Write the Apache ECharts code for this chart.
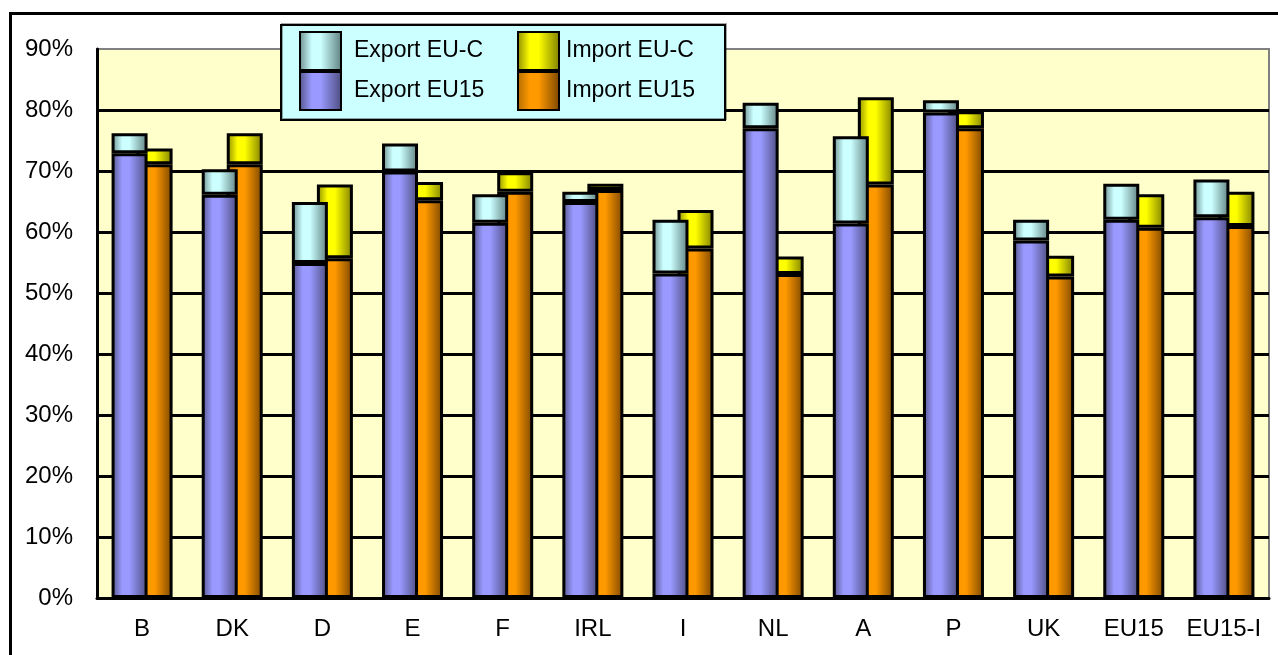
<!DOCTYPE html>
<html>
<head>
<meta charset="utf-8">
<title>Export and import shares</title>
<script src="https://cdn.jsdelivr.net/npm/echarts@6/dist/echarts.min.js"></script>
<style>
  html, body { margin: 0; padding: 0; background: #ffffff; }
  #chart { width: 1278px; height: 655px; }
</style>
</head>
<body>
<div id="chart"></div>
<script>
// Countries / aggregates along the x axis
const categories = ['B', 'DK', 'D', 'E', 'F', 'IRL', 'I', 'NL', 'A', 'P', 'UK', 'EU15', 'EU15-I'];

// Shares in percent: EU15 part and the EU-C part stacked on top of it
const exportEU15 = [72.9, 66.1, 54.9, 69.9, 61.5, 64.9, 53.2, 77.0, 61.4, 79.6, 58.6, 62.0, 62.4];
const exportEUC  = [3.3, 4.2, 10.0, 4.6, 4.7, 1.7, 8.8, 4.2, 14.3, 2.0, 3.4, 5.9, 6.2];
const importEU15 = [71.1, 71.1, 55.7, 65.2, 66.6, 66.9, 57.3, 53.1, 67.8, 77.0, 52.7, 60.7, 61.0];
const importEUC  = [2.6, 5.1, 12.1, 3.0, 3.2, 1.0, 6.3, 2.9, 14.3, 2.8, 3.4, 5.5, 5.6];

const yTicks = { min: 0, max: 90, step: 10 };

const FONT = '"Liberation Sans", Arial, sans-serif';

// Cylinder-like horizontal shading for each bar segment
function shade(edgeL, light, edgeR) {
  return new echarts.graphic.LinearGradient(0, 0, 1, 0, [
    { offset: 0, color: edgeL },
    { offset: 0.3, color: light },
    { offset: 0.5, color: light },
    { offset: 1, color: edgeR }
  ]);
}

const colExportEU15 = shade('#545488', '#9999ff', '#4c4c7e');
const colExportEUC  = shade('#6a8b8b', '#ccffff', '#5e7f7f');
const colImportEU15 = shade('#b06c00', '#ff9900', '#7a4600');
const colImportEUC  = shade('#8a8a00', '#ffff00', '#7e7e00');

const border = { borderColor: '#000000', borderWidth: 3 };

function barSeries(name, stack, data, color, z) {
  return {
    name: name,
    type: 'bar',
    stack: stack,
    data: data,
    barWidth: 36,
    barGap: '-30.5%',
    z: z,
    itemStyle: Object.assign({ color: color }, border),
    emphasis: { disabled: true }
  };
}

const chart = echarts.init(document.getElementById('chart'), null, { renderer: 'canvas' });

const legendText = { fontSize: 23, color: '#000000', fontFamily: FONT, padding: [8, 0, 0, 8] };

chart.setOption({
  backgroundColor: '#ffffff',
  animation: false,
  grid: {
    left: 97, right: 9, top: 49, bottom: 57,
    show: true,
    backgroundColor: '#ffffcc',
    borderColor: '#808080',
    borderWidth: 2
  },
  graphic: [
    {
      type: 'rect',
      z: 1,
      silent: true,
      shape: { x: 10.5, y: 13.5, width: 1300, height: 700 },
      style: { fill: 'none', stroke: '#000000', lineWidth: 3 }
    },
    {
      type: 'rect',
      z: 50,
      silent: true,
      shape: { x: 281, y: 25, width: 444, height: 95 },
      style: {
        fill: '#ccffff', stroke: '#000000', lineWidth: 2,
        shadowColor: 'rgba(0,0,0,0.35)', shadowOffsetX: 1, shadowOffsetY: -1, shadowBlur: 0
      }
    }
  ],
  legend: [
    {
      data: ['Export EU-C', 'Export EU15'],
      orient: 'vertical',
      left: 299, top: 31,
      itemWidth: 41, itemHeight: 38, itemGap: 0,
      padding: 0,
      icon: 'rect',
      selectedMode: false,
      z: 60,
      textStyle: legendText
    },
    {
      data: ['Import EU-C', 'Import EU15'],
      orient: 'vertical',
      left: 517, top: 31,
      itemWidth: 41, itemHeight: 38, itemGap: 0,
      padding: 0,
      icon: 'rect',
      selectedMode: false,
      z: 60,
      textStyle: Object.assign({}, legendText, { padding: [6, 0, 0, 2] })
    }
  ],
  xAxis: {
    type: 'category',
    data: categories,
    axisLine: { show: true, lineStyle: { color: '#000000', width: 3 } },
    axisTick: { show: false },
    axisLabel: { fontSize: 24, color: '#000000', fontFamily: FONT, margin: 19, interval: 0 },
    splitLine: { show: false }
  },
  yAxis: {
    type: 'value',
    min: yTicks.min, max: yTicks.max, interval: yTicks.step,
    axisLine: { show: true, lineStyle: { color: '#000000', width: 3 } },
    axisTick: { show: false },
    axisLabel: { fontSize: 24, color: '#000000', fontFamily: FONT, margin: 24, formatter: '{value}%' },
    splitLine: { show: true, showMinLine: false, showMaxLine: false, lineStyle: { color: '#000000', width: 3 } }
  },
  series: [
    barSeries('Export EU15', 'export', exportEU15, colExportEU15, 4),
    barSeries('Export EU-C', 'export', exportEUC, colExportEUC, 4),
    barSeries('Import EU15', 'import', importEU15, colImportEU15, 3),
    barSeries('Import EU-C', 'import', importEUC, colImportEUC, 3)
  ]
});
</script>
</body>
</html>
